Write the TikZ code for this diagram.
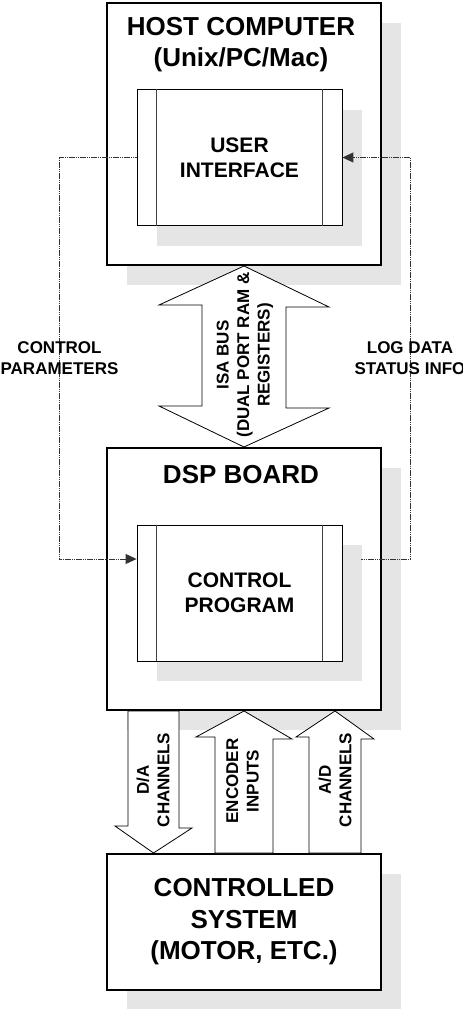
\documentclass[tikz,border=0pt]{standalone}
\usepackage{fontspec}
\setmainfont{Liberation Sans}
\usetikzlibrary{arrows.meta,shadows}

\begin{document}
\begin{tikzpicture} [
                x=1pt, y=-1pt,
                block/.style = {draw, line width=2pt, fill=white, minimum width=274pt,
                    drop shadow={shadow xshift=20pt, shadow yshift=-20pt, fill=black!10, opacity=1}},
                inner block/.style = {draw, line width=0.8pt, fill=white, minimum width=205pt,
                    minimum height=136pt, align=center, font=\bfseries\fontsize{21}{25}\selectfont,
                    drop shadow={shadow xshift=20pt, shadow yshift=-20pt, fill=black!10, opacity=1}},
                title/.style = {inner sep=0pt, align=center, font=\bfseries\fontsize{26}{31}\selectfont},
                side label/.style = {inner sep=0pt, align=center, font=\bfseries\fontsize{17}{20.5}\selectfont},
                fat arrow/.style = {draw, line width=0.8pt, fill=white, line join=miter},
                signal/.style = {draw, line width=0.9pt, black!80, dash pattern=on 1.6pt off 0.6pt},
            ]
            \useasboundingbox (0,0) rectangle (463,1009);
            \clip (0,0) rectangle (463,1009);
            % First we draw the three main blocks with their inner blocks
            \node[block, minimum height=262pt] (host) at (244,134) {};
            \node[title, anchor=north] (hosttitle) at ([xshift=-3pt,yshift=-15pt]host.north) {HOST COMPUTER\\(Unix/PC/Mac)};
            \node[inner block] (ui) at (239.5,157.5) {USER\\INTERFACE};
            \node[block, minimum height=262pt] (dsp) at (244,579) {};
            \node[title, anchor=base] (dsptitle) at ([xshift=-3pt,yshift=-36pt]dsp.north) {DSP BOARD};
            \node[inner block] (cp) at (239.5,593) {CONTROL\\PROGRAM};
            \node[block, minimum height=136pt, align=center, font=\bfseries\fontsize{26}{31.5}\selectfont]
                (sys) at (244,922) {CONTROLLED\\SYSTEM\\(MOTOR, ETC.)};
            % side bars of the inner blocks
            \foreach \blk in {ui, cp} {
                \draw[line width=0.8pt, black!75] ([xshift=20pt]\blk.north west) -- ([xshift=20pt]\blk.south west);
                \draw[line width=0.8pt, black!75] ([xshift=-20pt]\blk.north east) -- ([xshift=-20pt]\blk.south east);
            }
            % ISA bus between host and board
            \draw[fat arrow] (host.south) -- ++(85,41) -- ++(-43,0) -- ++(0,101) -- ++(43,0)
                -- (dsp.north) -- ++(-85,-41) -- ++(43,0) -- ++(0,-101) -- ++(-43,0) -- cycle;
            % channels between board and controlled system
            \draw[fat arrow] ([xshift=-116pt]dsp.south) -- ++(51,0) |- ++(13,117)
                -- ([xshift=-90.5pt]sys.north) -- ++(-38.5,-27) -- ++(13,0) -- cycle;
            \draw[fat arrow] (dsp.south) -- ++(48,28) -- ++(-19,0) -- ([xshift=29pt]sys.north)
                -- ([xshift=-29pt]sys.north) -- ++(0,-116) -- ++(-19,0) -- cycle;
            \draw[fat arrow] ([xshift=91pt]dsp.south) -- ++(39,28) -- ++(-13,0) -- ([xshift=117pt]sys.north)
                -- ([xshift=65pt]sys.north) -- ++(0,-116) -- ++(-13,0) -- cycle;
            % signal lines between the programs
            \draw[signal, -{Triangle[length=11pt,width=10pt]}] (ui.west) -- ++(-77,0) |- ([yshift=34pt]cp.west);
            \draw[signal, -{Triangle[length=11pt,width=10pt]}] ([xshift=19pt,yshift=34pt]cp.east) -- ++(49,0) |- (ui.east);
            % labels
            \node[side label] (params) at (59.5,358) {CONTROL\\PARAMETERS};
            \node[side label] (logdata) at (410,358) {LOG DATA\\STATUS INFO};
            \node[side label, rotate=90] (isa) at (245,355) {ISA BUS\\(DUAL PORT RAM \&\\REGISTERS)};
            \node[side label, rotate=90] (dalabel) at (153,780) {D/A\\CHANNELS};
            \node[side label, rotate=90] (enclabel) at (242.5,781) {ENCODER\\INPUTS};
            \node[side label, rotate=90] (adlabel) at (335,780) {A/D\\CHANNELS};
        \end{tikzpicture}
\end{document}
